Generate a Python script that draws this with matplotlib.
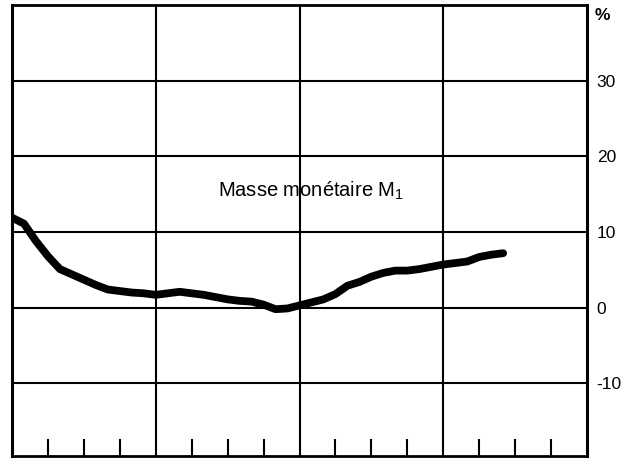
import numpy as np
import matplotlib
matplotlib.use('Agg')
import matplotlib.pyplot as plt
from matplotlib.ticker import FixedLocator

plt.rcParams['font.family'] = ['Liberation Sans', 'DejaVu Sans']
plt.rcParams['mathtext.fontset'] = 'custom'
plt.rcParams['mathtext.rm'] = 'Liberation Sans'

# monthly growth of M1 (%)
months = np.arange(42)
m1_growth = [11.9, 11.1, 8.8, 6.8, 5.1, 4.4, 3.7, 3.0, 2.4, 2.2, 2.0, 1.9,
             1.7, 1.9, 2.1, 1.9, 1.7, 1.4, 1.1, 0.9, 0.8, 0.4, -0.2, -0.1,
             0.3, 0.7, 1.1, 1.8, 2.9, 3.4, 4.1, 4.6, 4.9, 4.9, 5.1, 5.4,
             5.7, 5.9, 6.1, 6.7, 7.0, 7.2]
y_ticks = [-10, 0, 10, 20, 30]
label = 'Masse monétaire M$_1$'

fig = plt.figure(figsize=(6.34, 4.59), dpi=100)
ax = fig.add_axes([12 / 634, 3 / 459, 575 / 634, 451 / 459])

quarters = months / 3.0
ax.plot(quarters, m1_growth, color='black', lw=5.6, solid_capstyle='round',
        solid_joinstyle='round', zorder=3)

ax.set_xlim(0, 16)
ax.set_ylim(-19.6, 40)

# year grid (vertical) and value grid (horizontal)
for x in [4, 8, 12]:
    ax.axvline(x, color='black', lw=1.5, zorder=1)
for y in y_ticks:
    ax.axhline(y, color='black', lw=1.5, zorder=1)

ax.xaxis.set_major_locator(FixedLocator([]))
ax.xaxis.set_minor_locator(FixedLocator([q for q in range(1, 16) if q % 4]))
ax.tick_params(axis='x', which='minor', direction='in', length=12, width=1.5,
               color='black', bottom=True)
ax.tick_params(axis='x', which='major', length=0, labelbottom=False)

ax.yaxis.tick_right()
ax.set_yticks(y_ticks)
ax.set_yticklabels([str(v) for v in y_ticks])
ax.tick_params(axis='y', length=0, pad=7, labelsize=12.5)

ax.text(1.013, 38.6, '%', transform=ax.get_yaxis_transform(), ha='left',
        va='center', fontsize=12.5, fontweight='bold')
ax.text(8.33, 15.5, label, ha='center', va='center', fontsize=14.5)

for side, w in [('left', 2.2), ('right', 2.2), ('top', 2.0), ('bottom', 2.0)]:
    ax.spines[side].set_linewidth(w)

fig.savefig('out.png', dpi=100)
